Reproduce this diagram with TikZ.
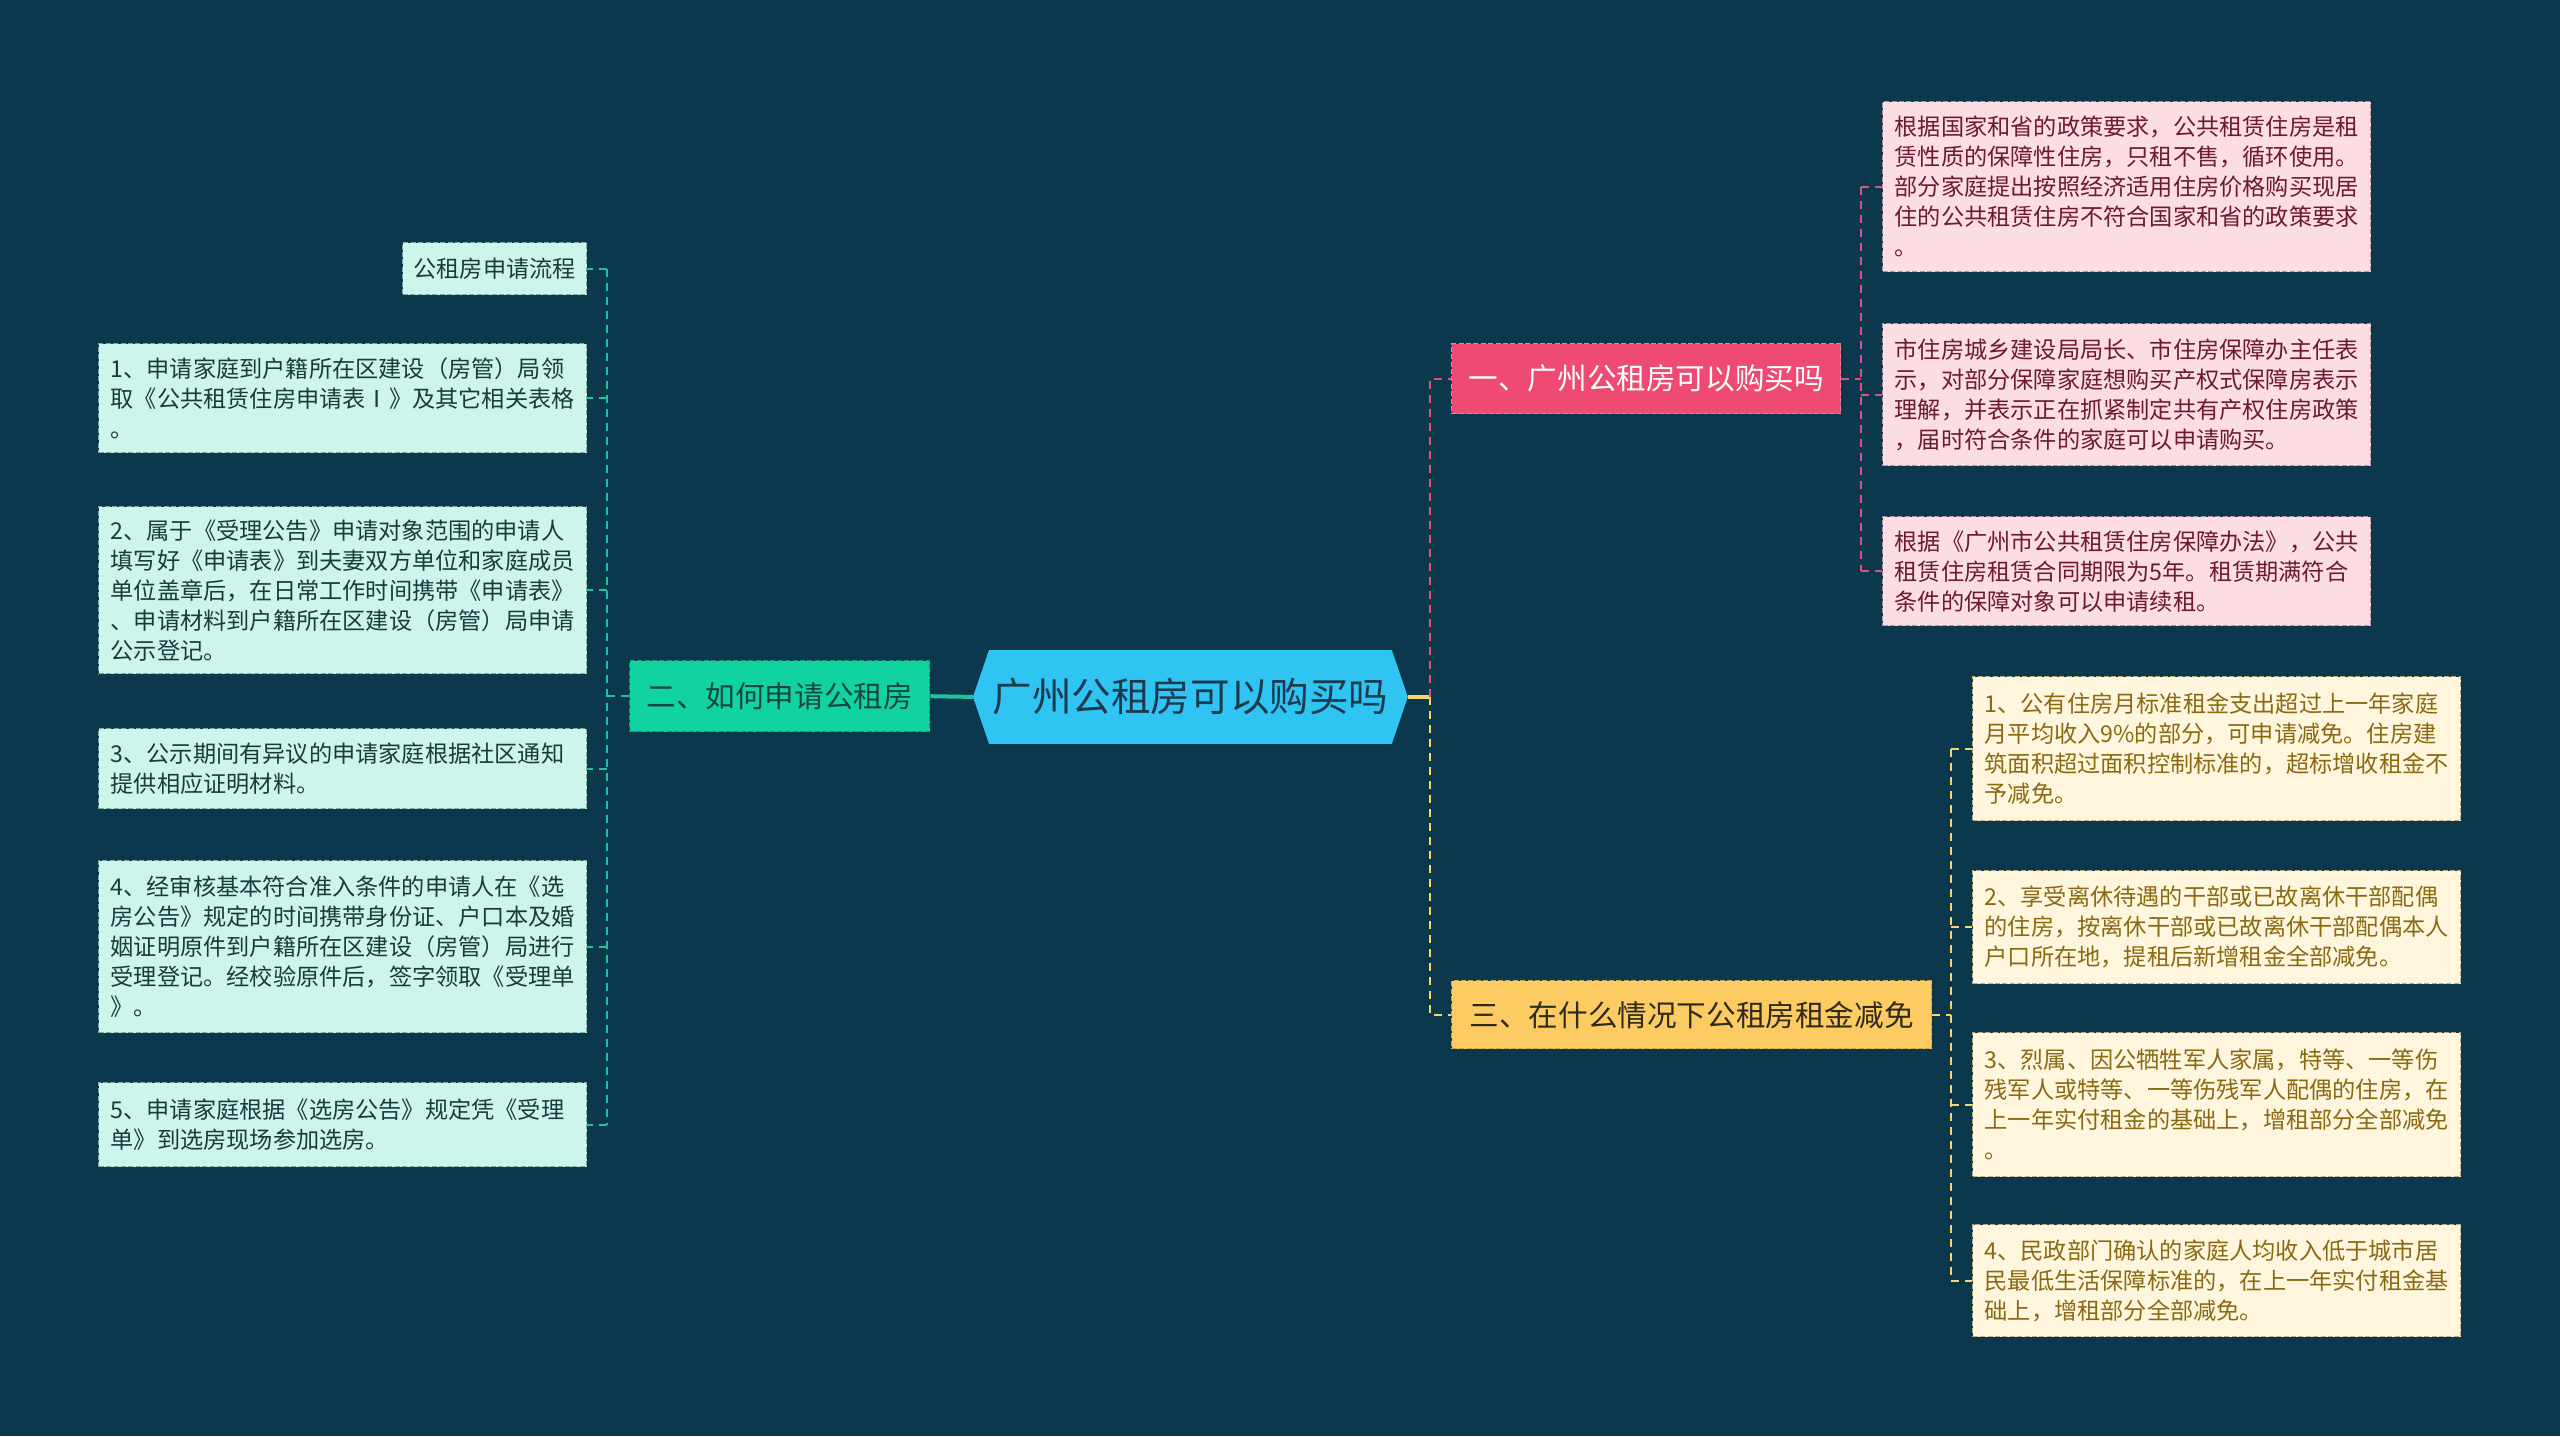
\documentclass[tikz,border=0pt]{standalone}
\usepackage{fontspec}
\newfontfamily\cjk{Noto Sans CJK SC}
\usetikzlibrary{backgrounds}
\definecolor{bgc}{HTML}{0B384C}
\definecolor{cfill}{HTML}{2FC4F2}
\definecolor{ctext}{HTML}{1C3A4E}
\definecolor{tbfill}{HTML}{10D3A0}
\definecolor{tbborder}{HTML}{0A9A74}
\definecolor{tbtext}{HTML}{17463F}
\definecolor{tlfill}{HTML}{CDF5EC}
\definecolor{tlborder}{HTML}{7FA99F}
\definecolor{tltext}{HTML}{1D3A3B}
\definecolor{tline}{HTML}{22C39A}
\definecolor{pbfill}{HTML}{EF4A73}
\definecolor{pbborder}{HTML}{D98CA0}
\definecolor{plfill}{HTML}{FCDDE4}
\definecolor{plborder}{HTML}{B88F9A}
\definecolor{pltext}{HTML}{6D1A2E}
\definecolor{pline}{HTML}{E0507D}
\definecolor{ybfill}{HTML}{FCCB62}
\definecolor{ybborder}{HTML}{C9A552}
\definecolor{ybtext}{HTML}{2F2A1A}
\definecolor{ylfill}{HTML}{FFF6DD}
\definecolor{ylborder}{HTML}{BBA980}
\definecolor{yltext}{HTML}{8A6912}
\definecolor{yline}{HTML}{F8D46C}
\tikzset{
  boxbase/.style={anchor=north west, inner ysep=0pt, line width=0.7pt, dash pattern=on 2.5pt off 1.2pt},
  leafbase/.style={boxbase, align=left, inner xsep=6pt, text width=232pt, font=\cjk\fontsize{11.6}{15}\selectfont},
  tleaf/.style={leafbase, fill=tlfill, draw=tlborder, text=tltext},
  pleaf/.style={leafbase, fill=plfill, draw=plborder, text=pltext},
  yleaf/.style={leafbase, fill=ylfill, draw=ylborder, text=yltext},
  branchbase/.style={boxbase, align=center, inner xsep=0pt, font=\cjk\fontsize{14.8}{18}\selectfont},
  tbranch/.style={branchbase, fill=tbfill, draw=tbborder, text=tbtext},
  pbranch/.style={branchbase, fill=pbfill, draw=pbborder, text=white},
  ybranch/.style={branchbase, fill=ybfill, draw=ybborder, text=ybtext},
  condash/.style={line width=1pt, dash pattern=on 4pt off 3pt},
  tdash/.style={condash, draw=tline},
  pdash/.style={condash, draw=pline},
  ydash/.style={condash, draw=yline},
}
\begin{document}
\begin{tikzpicture}[x=0.5pt,y=-0.5pt]
\begin{scope}[on background layer]
\fill[bgc] (0,0) rectangle (2560,1436);
\end{scope}
\useasboundingbox (0,0) rectangle (2560,1436);

% center
\node[anchor=north west, minimum width=217pt, minimum height=46.5pt, inner sep=0pt, text=ctext, font=\cjk\fontsize{19.8}{24}\selectfont] (C) at (973,650) {广州公租房可以购买吗};
\begin{scope}[on background layer]
\fill[cfill] (C.west) -- ([xshift=8pt]C.north west) -- ([xshift=-8pt]C.north east) -- (C.east) -- ([xshift=-8pt]C.south east) -- ([xshift=8pt]C.south west) -- cycle;
\end{scope}

% branches
\node[tbranch, minimum width=150pt, minimum height=35.5pt] (B2) at (629,660) {二、如何申请公租房};
\node[pbranch, minimum width=194.5pt, minimum height=35pt] (B1) at (1451,343) {一、广州公租房可以购买吗};
\node[ybranch, minimum width=240pt, minimum height=34pt] (B3) at (1451,980) {三、在什么情况下公租房租金减免};

% left leaves
\node[boxbase, align=center, inner xsep=0pt, fill=tlfill, draw=tlborder, text=tltext, font=\cjk\fontsize{11.6}{15}\selectfont, minimum width=92pt, minimum height=26pt] (L0) at (402,242) {公租房申请流程};
\node[tleaf, minimum height=54.5pt] (L1) at (98,343) {1、申请家庭到户籍所在区建设（房管）局领\\取《公共租赁住房申请表Ⅰ》及其它相关表格\\。};
\node[tleaf, minimum height=83.5pt] (L2) at (98,506) {2、属于《受理公告》申请对象范围的申请人\\填写好《申请表》到夫妻双方单位和家庭成员\\单位盖章后，在日常工作时间携带《申请表》\\、申请材料到户籍所在区建设（房管）局申请\\公示登记。};
\node[tleaf, minimum height=40pt] (L3) at (98,728) {3、公示期间有异议的申请家庭根据社区通知\\提供相应证明材料。};
\node[tleaf, minimum height=86pt] (L4) at (98,860) {4、经审核基本符合准入条件的申请人在《选\\房公告》规定的时间携带身份证、户口本及婚\\姻证明原件到户籍所在区建设（房管）局进行\\受理登记。经校验原件后，签字领取《受理单\\》。};
\node[tleaf, minimum height=42pt] (L5) at (98,1082) {5、申请家庭根据《选房公告》规定凭《受理\\单》到选房现场参加选房。};

% pink leaves
\node[pleaf, minimum height=85pt] (P1) at (1882,101) {根据国家和省的政策要求，公共租赁住房是租\\赁性质的保障性住房，只租不售，循环使用。\\部分家庭提出按照经济适用住房价格购买现居\\住的公共租赁住房不符合国家和省的政策要求\\。};
\node[pleaf, minimum height=71pt] (P2) at (1882,323) {市住房城乡建设局局长、市住房保障办主任表\\示，对部分保障家庭想购买产权式保障房表示\\理解，并表示正在抓紧制定共有产权住房政策\\，届时符合条件的家庭可以申请购买。};
\node[pleaf, minimum height=54.5pt] (P3) at (1882,516) {根据《广州市公共租赁住房保障办法》，公共\\租赁住房租赁合同期限为5年。租赁期满符合\\条件的保障对象可以申请续租。};

% yellow leaves
\node[yleaf, minimum height=72pt] (Y1) at (1972,676) {1、公有住房月标准租金支出超过上一年家庭\\月平均收入9\%的部分，可申请减免。住房建\\筑面积超过面积控制标准的，超标增收租金不\\予减免。};
\node[yleaf, minimum height=56.5pt] (Y2) at (1972,870) {2、享受离休待遇的干部或已故离休干部配偶\\的住房，按离休干部或已故离休干部配偶本人\\户口所在地，提租后新增租金全部减免。};
\node[yleaf, minimum height=72pt] (Y3) at (1972,1032) {3、烈属、因公牺牲军人家属，特等、一等伤\\残军人或特等、一等伤残军人配偶的住房，在\\上一年实付租金的基础上，增租部分全部减免\\。};
\node[yleaf, minimum height=56pt] (Y4) at (1972,1224) {4、民政部门确认的家庭人均收入低于城市居\\民最低生活保障标准的，在上一年实付租金基\\础上，增租部分全部减免。};

% connectors: center
\coordinate (cr) at (1430,0);
\draw[line width=2pt, draw=tline] (C.west) -- (B2.east);
\draw[line width=2pt, draw=yline] (C.east) -- (cr |- C.east);
\draw[pdash] (cr |- C.east) |- (B1.west);
\draw[ydash] (cr |- C.east) |- (B3.west);

% left group
\coordinate (tl) at (607,0);
\draw[tdash] (B2.west) -- (tl |- B2.west);
\draw[tdash] (tl |- L0.east) -- (tl |- L5.east);
\foreach \n in {L0,L1,L2,L3,L4,L5} \draw[tdash] (tl |- \n.east) -- (\n.east);

% pink group
\coordinate (pl) at (1861,0);
\draw[pdash] (B1.east) -- (pl |- B1.east);
\draw[pdash] (pl |- P1.west) -- (pl |- P3.west);
\foreach \n in {P1,P2,P3} \draw[pdash] (pl |- \n.west) -- (\n.west);

% yellow group
\coordinate (yl) at (1951,0);
\draw[ydash] (B3.east) -- (yl |- B3.east);
\draw[ydash] (yl |- Y1.west) -- (yl |- Y4.west);
\foreach \n in {Y1,Y2,Y3,Y4} \draw[ydash] (yl |- \n.west) -- (\n.west);
\end{tikzpicture}
\end{document}
